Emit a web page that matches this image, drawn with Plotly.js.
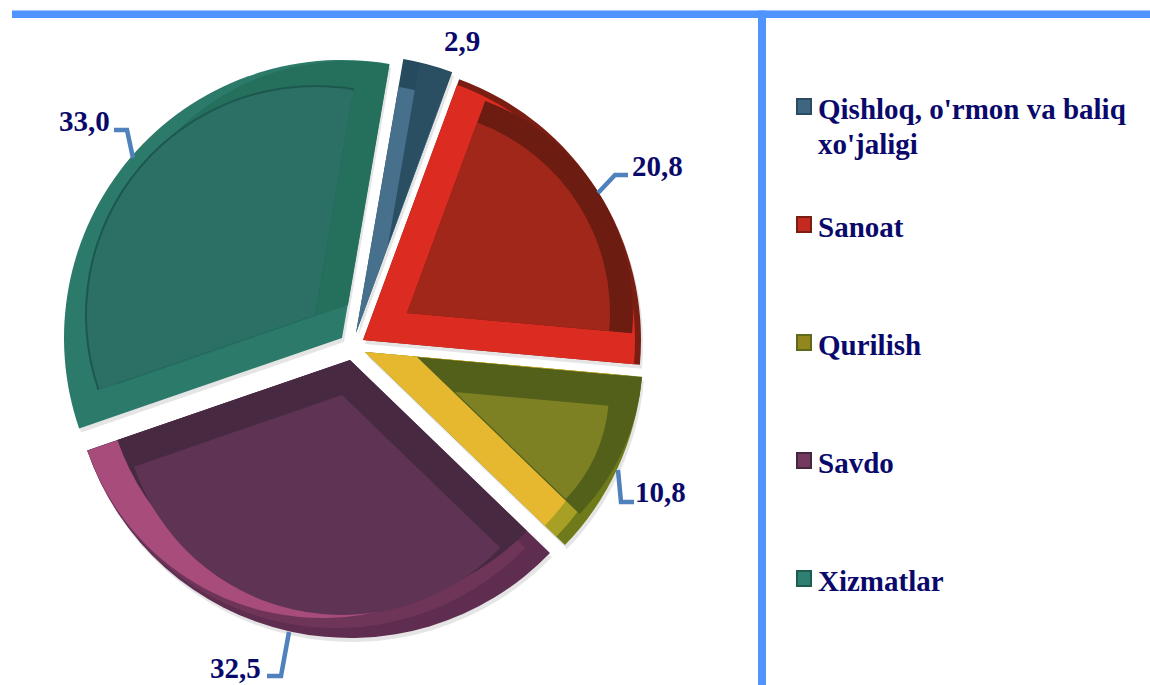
<!DOCTYPE html>
<html>
<head>
<meta charset="utf-8">
<script src="https://cdn.plot.ly/plotly-3.0.1.min.js"></script>
<style>html,body{margin:0;padding:0;background:#fff;overflow:hidden}#chart{width:1150px;height:685px}</style>
</head>
<body>
<div id="chart"></div>
<script>
// ---- data ----
var categories = ["Qishloq, o'rmon va baliq xo'jaligi", "Sanoat", "Qurilish", "Savdo", "Xizmatlar"];
var shares = [2.9, 20.8, 10.8, 32.5, 33.0];
var legendLines = [["Qishloq, o'rmon va baliq", "xo'jaligi"], ["Sanoat"], ["Qurilish"], ["Savdo"], ["Xizmatlar"]];

// ---- look ----
var W = 1150, H = 685, START_ANGLE = 9.8, R = 278;
var NAVY = '#09096b', FRAME = '#4f94ff', LEADER = '#4f81bd';
var FONT = '"Liberation Serif", "Times New Roman", serif';

// bevelled slices: painted bottom to top, [apexX, apexY, radius, colour]
var sliceLayers = [
  [[358, 337, R, 'rgba(0,0,0,0.10)'], [356, 333, R, '#264a5e'], [356, 333, 250, '#46708c'], [388, 245, 184, '#2a4f63']],
  [[365, 344, R, 'rgba(0,0,0,0.10)'], [363, 340, R, '#7a1d12'], [363, 340, 272, '#dc2c22'], [407, 313, 226, '#6c1c10'], [407, 313, 203, '#a0271a']],
  [[367, 356, R, 'rgba(0,0,0,0.10)'], [365, 352, R, '#6f7a1a'], [365, 352, 266, '#a8a024'], [365, 352, 250, '#e6b830'], [417, 357, 226, '#52601a'], [455, 392, 154, '#7e8024']],
  [[352, 364, R, 'rgba(0,0,0,0.10)'], [350, 360, R, '#5f2d50'], [336, 365, 263, '#6f3559'], [322, 370, 248, '#a84c7c'], [350, 360, 246, '#472a42'], [342, 395, 220, '#5f3353']],
  [[344, 342, R, 'rgba(0,0,0,0.10)'], [342, 338, R, '#2c7a6a'], [348, 305, 244, '#24705d'], [315, 315, 230, '#1d584e'], [315, 315, 228, '#2c6f65']]
];
var swatches = [
  {y: 98,  edge: '#2a4c60', face: '#3f6680'},
  {y: 216, edge: '#7a1d12', face: '#c42a20'},
  {y: 334, edge: '#5c6a1a', face: '#93861f'},
  {y: 452, edge: '#42293f', face: '#74395f'},
  {y: 570, edge: '#1f5c50', face: '#2f7f72'}
];
var legendLineY = [[109, 144], [227], [345], [463], [581]];
var legendLineX = 817;
var valueLabelPos = [[462, 41], [657, 166], [661, 492], [235, 668], [84, 121]];
var leaders = [
  null,
  [[598, 193], [615, 175], [628, 175]],
  [[618, 470], [621, 502], [634, 502]],
  [[289, 632], [281, 676], [267, 676]],
  [[114, 130], [127, 130], [133, 158]]
];

function px(x) { return x / W; }
function py(y) { return 1 - y / H; }

// ---- traces ----
var traces = [];
shares.forEach(function (_, i) {
  sliceLayers[i].forEach(function (l) {
    var colors = shares.map(function (_, j) { return j === i ? l[3] : 'rgba(0,0,0,0)'; });
    traces.push({
      type: 'pie',
      labels: categories,
      values: shares,
      sort: false,
      direction: 'clockwise',
      rotation: START_ANGLE,
      domain: {x: [px(l[0] - l[2]), px(l[0] + l[2])], y: [py(l[1] + l[2]), py(l[1] - l[2])]},
      marker: {colors: colors, line: {width: 0}},
      textinfo: 'none',
      showlegend: false,
      hoverinfo: 'label+value'
    });
  });
});

// ---- annotations and shapes ----
var annotations = [];
var shapes = [];
function text(t, x, y, anchor) {
  annotations.push({text: t, xref: 'paper', yref: 'paper', x: px(x), y: py(y), xanchor: anchor, yanchor: 'middle',
    showarrow: false, borderpad: 0, font: {family: FONT, size: 29, color: NAVY, weight: 700}});
}
// frame
shapes.push({type: 'rect', xref: 'paper', yref: 'paper', x0: px(12), x1: 1, y0: py(18), y1: py(10.5), fillcolor: FRAME, line: {width: 0}});
shapes.push({type: 'rect', xref: 'paper', yref: 'paper', x0: px(758), x1: px(766), y0: 0, y1: py(10.5), fillcolor: FRAME, line: {width: 0}});
// value labels and leaders
shares.forEach(function (v, i) {
  text(v.toFixed(1).replace('.', ','), valueLabelPos[i][0], valueLabelPos[i][1], 'center');
  if (leaders[i]) {
    var d = leaders[i].map(function (p, k) { return (k ? 'L' : 'M') + px(p[0]) + ',' + py(p[1]); }).join(' ');
    shapes.push({type: 'path', xref: 'paper', yref: 'paper', path: d, line: {color: LEADER, width: 4.5}});
  }
});
// legend
swatches.forEach(function (s, i) {
  shapes.push({type: 'rect', xref: 'paper', yref: 'paper', x0: px(796), x1: px(812), y0: py(s.y + 17), y1: py(s.y), fillcolor: s.edge, line: {width: 0}});
  shapes.push({type: 'rect', xref: 'paper', yref: 'paper', x0: px(798), x1: px(810), y0: py(s.y + 15), y1: py(s.y + 2), fillcolor: s.face, line: {width: 0}});
  legendLines[i].forEach(function (t, k) { text(t, legendLineX, legendLineY[i][k], 'left'); });
});

Plotly.newPlot('chart', traces, {
  width: W, height: H,
  margin: {l: 0, r: 0, t: 0, b: 0},
  paper_bgcolor: '#ffffff',
  showlegend: false,
  annotations: annotations,
  shapes: shapes
}, {displayModeBar: false, staticPlot: true});
</script>
</body>
</html>
